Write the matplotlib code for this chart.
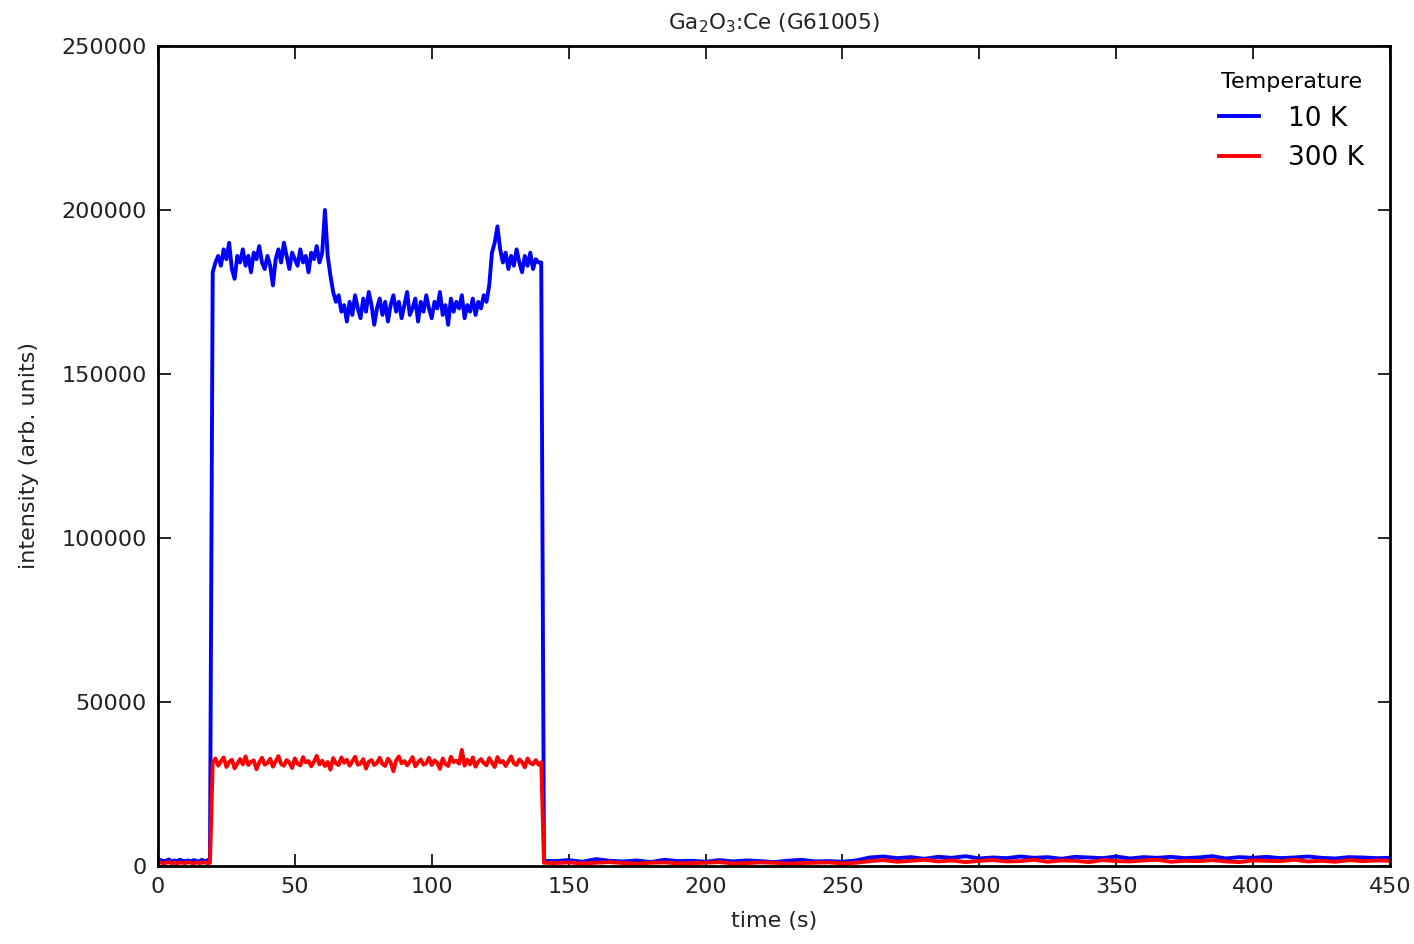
import numpy as np
import matplotlib
matplotlib.use('Agg')
import matplotlib.pyplot as plt

# sample times (s)
t_pre = list(range(0, 20))
t_on = list(range(20, 141))
t_post = [141] + list(range(145, 451, 5))

# 10 K intensity (thousands of counts)
blue_pre = [1.4, 1.8, 1.5, 1.6, 2.0, 1.3, 1.7, 1.5, 1.9, 1.6,
            1.5, 1.7, 1.4, 1.8, 1.6, 1.3, 1.9, 1.5, 1.7, 2.1]
blue_on = [181, 184, 186, 183, 188, 185, 190, 182, 179, 186,
           184, 188, 183, 186, 181, 187, 185, 189, 184, 182,
           186, 183, 177, 185, 188, 184, 190, 186, 182, 187,
           185, 183, 188, 184, 186, 181, 187, 185, 189, 184,
           187, 200, 186, 180, 175, 172, 174, 169, 171, 166,
           172, 168, 174, 170, 167, 173, 169, 175, 171, 165,
           170, 173, 168, 172, 166, 171, 174, 169, 172, 167,
           171, 175, 168, 170, 173, 166, 172, 169, 174, 170,
           167, 172, 170, 175, 168, 171, 165, 173, 169, 172,
           170, 174, 167, 171, 169, 173, 168, 172, 170, 174,
           172, 177, 187, 190, 195, 188, 184, 187, 182, 186,
           183, 188, 184, 181, 186, 183, 187, 182, 185, 184,
           184]
blue_post = [1.6,
             1.5, 1.8, 1.3, 2.1, 1.6, 1.4, 1.7, 1.2, 1.9, 1.5,
             1.6, 1.3, 1.8, 1.4, 1.7, 1.5, 1.2, 1.6, 1.9, 1.4,
             1.5, 1.3, 1.7,
             2.6, 2.9, 2.4, 2.7, 2.2, 2.8, 2.5, 3.0, 2.3, 2.6,
             2.4, 2.9, 2.5, 2.7, 2.2, 2.8, 2.6, 2.4, 2.9, 2.3,
             2.7, 2.5, 2.8, 2.4, 2.6, 3.0, 2.3, 2.7, 2.5, 2.8,
             2.4, 2.6, 2.9, 2.5, 2.3, 2.7, 2.6, 2.4, 2.5]

# 300 K intensity (thousands of counts)
red_pre = [0.9, 1.1, 0.8, 1.0, 1.2, 0.9, 1.0, 0.8, 1.1, 1.0,
           0.9, 1.2, 1.0, 0.8, 1.1, 0.9, 1.0, 1.2, 0.8, 1.0]
red_on = [31.5, 32.8, 30.6, 31.9, 33.1, 30.2, 31.7, 32.4, 29.8, 31.2,
          32.6, 31.0, 33.4, 30.8, 31.8, 32.2, 29.5, 31.6, 33.0, 30.9,
          31.4, 32.7, 30.3, 31.9, 33.5, 31.1, 30.6, 32.3, 31.5, 29.9,
          32.8, 31.2, 30.7, 33.2, 31.6, 32.0, 30.4, 31.8, 33.6, 31.0,
          32.1, 30.5, 31.7, 29.4, 32.9, 31.3, 30.8, 33.1, 31.5, 32.4,
          30.6, 31.9, 33.3, 30.9, 31.2, 32.6, 29.7, 31.8, 32.3, 30.8,
          31.4, 33.0, 31.1, 30.5, 32.7, 31.6, 28.9, 32.2, 33.4, 31.3,
          32.0, 30.7, 31.8, 33.2, 30.4, 31.6, 32.5, 30.9, 31.3, 33.0,
          30.8, 32.2, 31.5, 29.6, 32.8, 31.1, 30.5, 33.3, 31.7, 32.1,
          31.2, 35.4, 30.6, 32.4, 31.0, 33.1, 30.3, 31.8, 32.6, 31.4,
          30.7, 32.9, 31.5, 30.2, 33.2, 31.6, 32.0, 30.5, 31.9, 33.4,
          31.3, 30.8, 32.5, 31.7, 30.1, 32.8, 31.4, 31.0, 32.3, 30.9,
          31.6]
red_post = [1.0,
            0.9, 1.1, 0.8, 1.0, 1.2, 0.9, 0.7, 1.0, 1.1, 0.8,
            0.9, 1.0, 1.2, 0.8, 0.9, 1.1, 1.0, 0.7, 0.9, 1.0,
            1.1, 0.8, 1.0,
            1.5, 1.8, 1.3, 1.6, 1.9, 1.4, 1.7, 1.2, 1.6, 1.8,
            1.4, 1.5, 1.9, 1.3, 1.7, 1.6, 1.2, 1.8, 1.5, 1.4,
            1.7, 1.9, 1.3, 1.6, 1.5, 1.8, 1.4, 1.2, 1.7, 1.6,
            1.5, 1.9, 1.4, 1.6, 1.3, 1.8, 1.5, 1.7, 1.6]

t = np.array(t_pre + t_on + t_post)
blue = np.array(blue_pre + blue_on + blue_post) * 1000
red = np.array(red_pre + red_on + red_post) * 1000

fig = plt.figure(figsize=(14.14, 9.44), dpi=100)
ax = fig.add_axes([0.1117, 0.0826, 0.8713, 0.8687])

ax.plot(t, blue, color='#0000ff', lw=2.8, label='10 K')
ax.plot(t, red, color='#ff0000', lw=2.8, label='300 K')

ax.set_xlim(0, 450)
ax.set_ylim(0, 250000)
ax.set_xticks(range(0, 451, 50))
ax.set_yticks(range(0, 250001, 50000))
ax.tick_params(direction='in', top=True, right=True, length=9, width=1.2,
               labelsize=16, pad=8, labelcolor='#222222')
for s in ax.spines.values():
    s.set_linewidth(2)

ax.set_xlabel('time (s)', fontsize=16, labelpad=10, color='#222222')
ax.set_ylabel('intensity (arb. units)', fontsize=16, labelpad=16, color='#222222')
ax.set_title(r'Ga$_2$O$_3$:Ce (G61005)', fontsize=15.5, pad=12, color='#222222')

leg = ax.legend(title='Temperature', frameon=False, fontsize=19,
                title_fontsize=16, loc='upper right', handlelength=1.5,
                borderaxespad=0.6, handletextpad=1.1, labelspacing=0.5)

fig.savefig('out.png', dpi=100)
